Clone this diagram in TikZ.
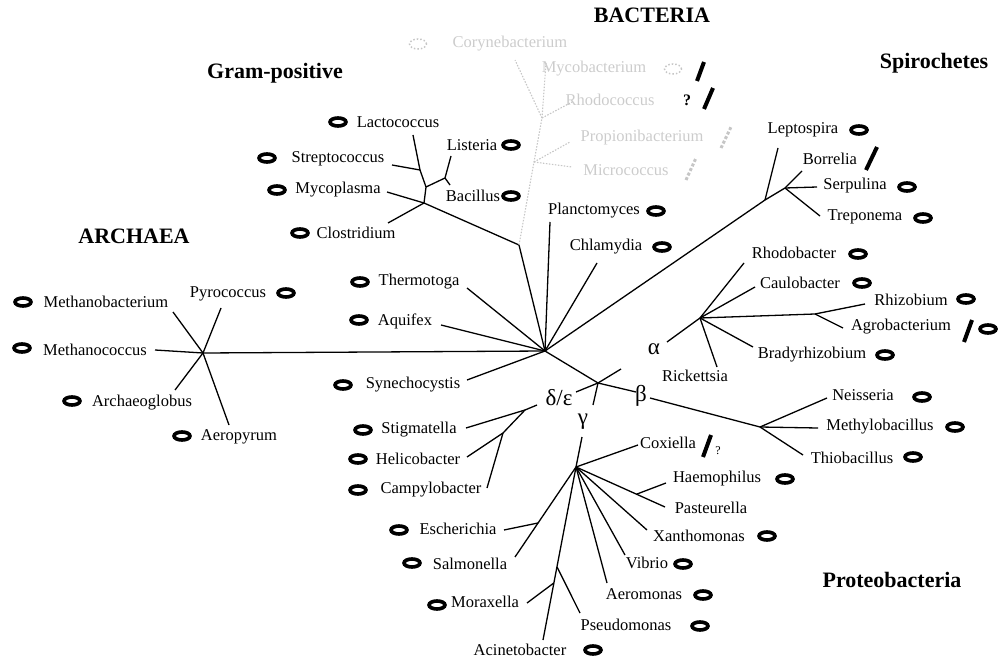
\documentclass[tikz,border=0pt]{standalone}
\usepackage{fontspec}
\setmainfont{Liberation Serif}
\usetikzlibrary{shapes.geometric,calc}
\begin{document}
\begin{tikzpicture}[x=1pt,y=-1pt,
  br/.style={line width=1.3pt, black},
  fbr/.style={line width=1.1pt, gray!45, dash pattern=on 1.5pt off 1.5pt},
  lbl/.style={font=\fontsize{16.5}{18}\selectfont, inner sep=0pt},
  flbl/.style={lbl, text=gray!40},
  head/.style={font=\fontsize{22}{24}\selectfont\bfseries, inner sep=0pt},
  grk/.style={font=\fontsize{23}{24}\selectfont, inner sep=0pt},
  oval/.style={ellipse, draw, line width=3.6pt, minimum width=16pt, minimum height=8pt, inner sep=0pt},
  foval/.style={ellipse, draw=gray!45, dotted, line width=1.5pt, minimum width=17pt, minimum height=10pt, inner sep=0pt},
  slash/.style={line width=4pt, black},
  fslash/.style={line width=3pt, gray!45, dotted}]
\useasboundingbox (0,0) rectangle (998,660);

% ---------- headings
\node[head] (hBac) at (652,15) {BACTERIA};
\node[head] (hGP) at (275,73) {Gram-positive};
\node[head] (hAr) at (134,236) {ARCHAEA};
\node[head] (hSp) at (934,63) {Spirochetes};
\node[head] (hPr) at (892,580) {Proteobacteria};

% ---------- main hubs
\coordinate (C) at (545,351);
\coordinate (AH) at (203,353);

% ---------- Archaea
\coordinate (aMb) at (173,312);
\coordinate (aPy) at (221,308);
\coordinate (aMc) at (155,350);
\coordinate (aAg) at (175,390);
\coordinate (aAe) at (229,425);
\draw[br] (AH) -- (C);
\draw[br] (AH) -- (aMb);
\draw[br] (AH) -- (aPy);
\draw[br] (AH) -- (aMc);
\draw[br] (AH) -- (aAg);
\draw[br] (AH) -- (aAe);
\node[lbl] (tMb) at (106,302) {Methanobacterium};
\node[oval] (oMb) at (23,302) {};
\node[lbl] (tPy) at (228,294) {Pyrococcus};
\node[oval] (oPy) at (286,293) {};
\node[lbl] (tMc) at (95,350) {Methanococcus};
\node[oval] (oMc) at (22,348) {};
\node[lbl] (tAg) at (142,403) {Archaeoglobus};
\node[oval] (oAg) at (72,401) {};
\node[lbl] (tAe) at (239,437) {Aeropyrum};
\node[oval] (oAe) at (182,436) {};

% ---------- single branches from centre
\coordinate (eTh) at (467,288);
\coordinate (eAq) at (441,325);
\coordinate (eSy) at (467,380);
\coordinate (ePl) at (550,222);
\coordinate (eCh) at (597,263);
\draw[br] (C) -- (eTh);
\draw[br] (C) -- (eAq);
\draw[br] (C) -- (eSy);
\draw[br] (C) -- (ePl);
\draw[br] (C) -- (eCh);
\node[lbl] (tTh) at (419,282) {Thermotoga};
\node[oval] (oTh) at (360,282) {};
\node[lbl] (tAq) at (405,321) {Aquifex};
\node[oval] (oAq) at (359,320) {};
\node[lbl] (tSy) at (413,385) {Synechocystis};
\node[oval] (oSy) at (343,385) {};
\node[lbl] (tPl) at (594,211) {Planctomyces};
\node[oval] (oPl) at (656,211) {};
\node[lbl] (tCh) at (606,247) {Chlamydia};
\node[oval] (oCh) at (662,247) {};

% ---------- Gram-positive (low GC)
\coordinate (GP) at (519,245);
\coordinate (G1) at (424,203);
\coordinate (eMy) at (387,192);
\coordinate (eCl) at (388,223);
\coordinate (G2) at (426,187);
\coordinate (G3) at (420,170);
\coordinate (eLa) at (413,135);
\coordinate (eSt) at (392,165);
\coordinate (G4) at (445,178);
\coordinate (eLi) at (451,156);
\coordinate (eBa) at (450,185);
\draw[br] (C) -- (GP);
\draw[br] (GP) -- (G1) -- (eMy);
\draw[br] (G1) -- (eCl);
\draw[br] (G1) -- (G2) -- (G3) -- (eLa);
\draw[br] (G3) -- (eSt);
\draw[br] (G2) -- (G4) -- (eLi);
\draw[br] (G4) -- (eBa);
\node[lbl] (tLa) at (398,122) {Lactococcus};
\node[oval] (oLa) at (338,122) {};
\node[lbl] (tSt) at (338,159) {Streptococcus};
\node[oval] (oSt) at (267,158) {};
\node[lbl] (tMy) at (338,190) {Mycoplasma};
\node[oval] (oMy) at (277,190) {};
\node[lbl] (tCl) at (356,233) {Clostridium};
\node[oval] (oCl) at (300,233) {};
\node[lbl] (tLi) at (472,145) {Listeria};
\node[oval] (oLi) at (511,145) {};
\node[lbl] (tBa) at (473,196) {Bacillus};
\node[oval] (oBa) at (511,196) {};

% ---------- Gram-positive (high GC, faint)
\coordinate (N2) at (534,162);
\coordinate (N1) at (542,118);
\coordinate (eCo) at (515,60);
\coordinate (eMc) at (546,63);
\coordinate (eRh) at (572,102);
\coordinate (ePr) at (570,142);
\coordinate (eMi) at (572,167);
\draw[fbr] (GP) -- (N2) -- (N1);
\draw[fbr] (N1) -- (eCo);
\draw[fbr] (N1) -- (eMc);
\draw[fbr] (N1) -- (eRh);
\draw[fbr] (N2) -- (ePr);
\draw[fbr] (N2) -- (eMi);
\node[flbl] (tCo) at (510,44) {Corynebacterium};
\node[foval] (oCo) at (418,44) {};
\node[flbl] (tMc2) at (594,69) {Mycobacterium};
\node[foval] (oMc2) at (673,69) {};
\coordinate (sMc1) at (697,81);
\coordinate (sMc2) at (704,62);
\draw[slash] (sMc1) -- (sMc2);
\node[flbl] (tRh) at (610,100) {Rhodococcus};
\node[lbl, font=\fontsize{16}{18}\selectfont\bfseries] (qRh) at (687,100) {?};
\coordinate (sRh1) at (704,109);
\coordinate (sRh2) at (713,88);
\draw[slash] (sRh1) -- (sRh2);
\node[flbl] (tPr) at (642,138) {Propionibacterium};
\coordinate (sPr1) at (721,148);
\coordinate (sPr2) at (731,127);
\draw[fslash] (sPr1) -- (sPr2);
\node[flbl] (tMi) at (626,170) {Micrococcus};
\coordinate (sMi1) at (686,180);
\coordinate (sMi2) at (696,158);
\draw[fslash] (sMi1) -- (sMi2);

% ---------- Spirochetes
\coordinate (S1) at (765,200);
\coordinate (S2) at (785,188);
\coordinate (eLe) at (778,148);
\coordinate (eBo) at (802,171);
\coordinate (eSe) at (817,187);
\coordinate (eTr) at (820,216);
\draw[br] (C) -- (S1) -- (S2);
\draw[br] (S1) -- (eLe);
\draw[br] (S2) -- (eBo);
\draw[br] (S2) -- (eSe);
\draw[br] (S2) -- (eTr);
\node[lbl] (tLe) at (803,130) {Leptospira};
\node[oval] (oLe) at (859,130) {};
\node[lbl] (tBo) at (830,159) {Borrelia};
\coordinate (sBo1) at (866,170);
\coordinate (sBo2) at (877,147);
\draw[slash] (sBo1) -- (sBo2);
\node[lbl] (tSe) at (855,186) {Serpulina};
\node[oval] (oSe) at (907,187) {};
\node[lbl] (tTr) at (865,217) {Treponema};
\node[oval] (oTr) at (923,218) {};

% ---------- Proteobacteria stem
\coordinate (P) at (598,383);
\node[grk] (gB) at (641,396) {β};
\node[grk] (gA) at (654,349) {α};
\node[grk] (gD) at (559,398) {δ/ε};
\node[grk] (gG) at (583,422) {γ};
\coordinate (pB1) at (636,392);
\coordinate (pB2) at (650,398);
\coordinate (pA1) at (621,369);
\coordinate (pA2) at (667,342);
\coordinate (pD1) at (576,392);
\coordinate (pD2) at (537,405);
\coordinate (pG1) at (593,405);
\coordinate (pG2) at (582,437);
\coordinate (B) at (760,427);
\coordinate (A) at (700,318);
\coordinate (D) at (525,410);
\coordinate (Gn) at (576,467);
\draw[br] (C) -- (P);
\draw[br] (P) -- (pB1);
\draw[br] (pB2) -- (B);
\draw[br] (P) -- (pA1);
\draw[br] (pA2) -- (A);
\draw[br] (P) -- (pD1);
\draw[br] (pD2) -- (D);
\draw[br] (P) -- (pG1);
\draw[br] (pG2) -- (Gn);

% ---------- alpha
\coordinate (eRb) at (744,263);
\coordinate (eCa) at (755,287);
\coordinate (RZ) at (815,314);
\coordinate (eRz) at (865,304);
\coordinate (eAb) at (843,328);
\coordinate (eBr) at (753,347);
\coordinate (eRi) at (717,367);
\draw[br] (A) -- (eRb);
\draw[br] (A) -- (eCa);
\draw[br] (A) -- (RZ) -- (eRz);
\draw[br] (RZ) -- (eAb);
\draw[br] (A) -- (eBr);
\draw[br] (A) -- (eRi);
\node[lbl] (tRb) at (794,253) {Rhodobacter};
\node[oval] (oRb) at (858,254) {};
\node[lbl] (tCa) at (800,283) {Caulobacter};
\node[oval] (oCa) at (862,283) {};
\node[lbl] (tRz) at (911,300) {Rhizobium};
\node[oval] (oRz) at (966,299) {};
\node[lbl] (tAb) at (901,327) {Agrobacterium};
\coordinate (sAb1) at (964,342);
\coordinate (sAb2) at (972,320);
\draw[slash] (sAb1) -- (sAb2);
\node[oval] (oAb) at (988,329) {};
\node[lbl] (tBr) at (812,355) {Bradyrhizobium};
\node[oval] (oBr) at (885,355) {};
\node[lbl] (tRi) at (695,376) {Rickettsia};

% ---------- beta
\coordinate (eNe) at (827,398);
\coordinate (eMe) at (818,428);
\coordinate (eTh2) at (803,455);
\draw[br] (B) -- (eNe);
\draw[br] (B) -- (eMe);
\draw[br] (B) -- (eTh2);
\node[lbl] (tNe) at (863,395) {Neisseria};
\node[oval] (oNe) at (922,397) {};
\node[lbl] (tMe) at (880,427) {Methylobacillus};
\node[oval] (oMe) at (955,427) {};
\node[lbl] (tTh2) at (852,458) {Thiobacillus};
\node[oval] (oTh2) at (913,457) {};

% ---------- delta/epsilon
\coordinate (D2) at (503,433);
\coordinate (eSg) at (466,428);
\coordinate (eHe) at (467,457);
\coordinate (eCp) at (487,488);
\draw[br] (D) -- (eSg);
\draw[br] (D) -- (D2) -- (eHe);
\draw[br] (D2) -- (eCp);
\node[lbl] (tSg) at (419,430) {Stigmatella};
\node[oval] (oSg) at (363,430) {};
\node[lbl] (tHe) at (418,459) {Helicobacter};
\node[oval] (oHe) at (358,459) {};
\node[lbl] (tCp) at (431,490) {Campylobacter};
\node[oval] (oCp) at (358,490) {};

% ---------- gamma
\coordinate (eCx) at (638,445);
\coordinate (ePa) at (665,507);
\coordinate (HP) at ($(Gn)!0.68!(ePa)$);
\coordinate (eHa) at (666,483);
\coordinate (eXa) at (647,530);
\coordinate (eVi) at (625,555);
\coordinate (eAe) at (607,583);
\coordinate (eAc) at (543,640);
\coordinate (PS) at ($(Gn)!0.577!(eAc)$);
\coordinate (MX) at ($(Gn)!0.67!(eAc)$);
\coordinate (ePs) at (580,613);
\coordinate (eMo) at (527,603);
\coordinate (eSa) at (515,557);
\coordinate (ES) at ($(Gn)!0.622!(eSa)$);
\coordinate (eEs) at (504,530);
\draw[br] (Gn) -- (eCx);
\draw[br] (Gn) -- (ePa);
\draw[br] (HP) -- (eHa);
\draw[br] (Gn) -- (eXa);
\draw[br] (Gn) -- (eVi);
\draw[br] (Gn) -- (eAe);
\draw[br] (Gn) -- (eAc);
\draw[br] (PS) -- (ePs);
\draw[br] (MX) -- (eMo);
\draw[br] (Gn) -- (eSa);
\draw[br] (ES) -- (eEs);
\node[lbl] (tCx) at (668,443) {Coxiella};
\coordinate (sCx1) at (703,457);
\coordinate (sCx2) at (711,435);
\draw[slash] (sCx1) -- (sCx2);
\node[lbl, font=\fontsize{12}{14}\selectfont] (qCx) at (718,451) {?};
\node[lbl] (tHa) at (717,479) {Haemophilus};
\node[oval] (oHa) at (785,479) {};
\node[lbl] (tPa) at (711,508) {Pasteurella};
\node[lbl] (tXa) at (699,536) {Xanthomonas};
\node[oval] (oXa) at (767,536) {};
\node[lbl] (tVi) at (647,563) {Vibrio};
\node[oval] (oVi) at (683,564) {};
\node[lbl] (tAe2) at (644,594) {Aeromonas};
\node[oval] (oAe2) at (703,595) {};
\node[lbl] (tPs) at (626,625) {Pseudomonas};
\node[oval] (oPs) at (700,626) {};
\node[lbl] (tAc) at (520,650) {Acinetobacter};
\node[oval] (oAc) at (593,650) {};
\node[lbl] (tMo) at (485,602) {Moraxella};
\node[oval] (oMo) at (437,605) {};
\node[lbl] (tEs) at (458,529) {Escherichia};
\node[oval] (oEs) at (399,530) {};
\node[lbl] (tSa) at (470,564) {Salmonella};
\node[oval] (oSa) at (412,563) {};
\end{tikzpicture}
\end{document}
